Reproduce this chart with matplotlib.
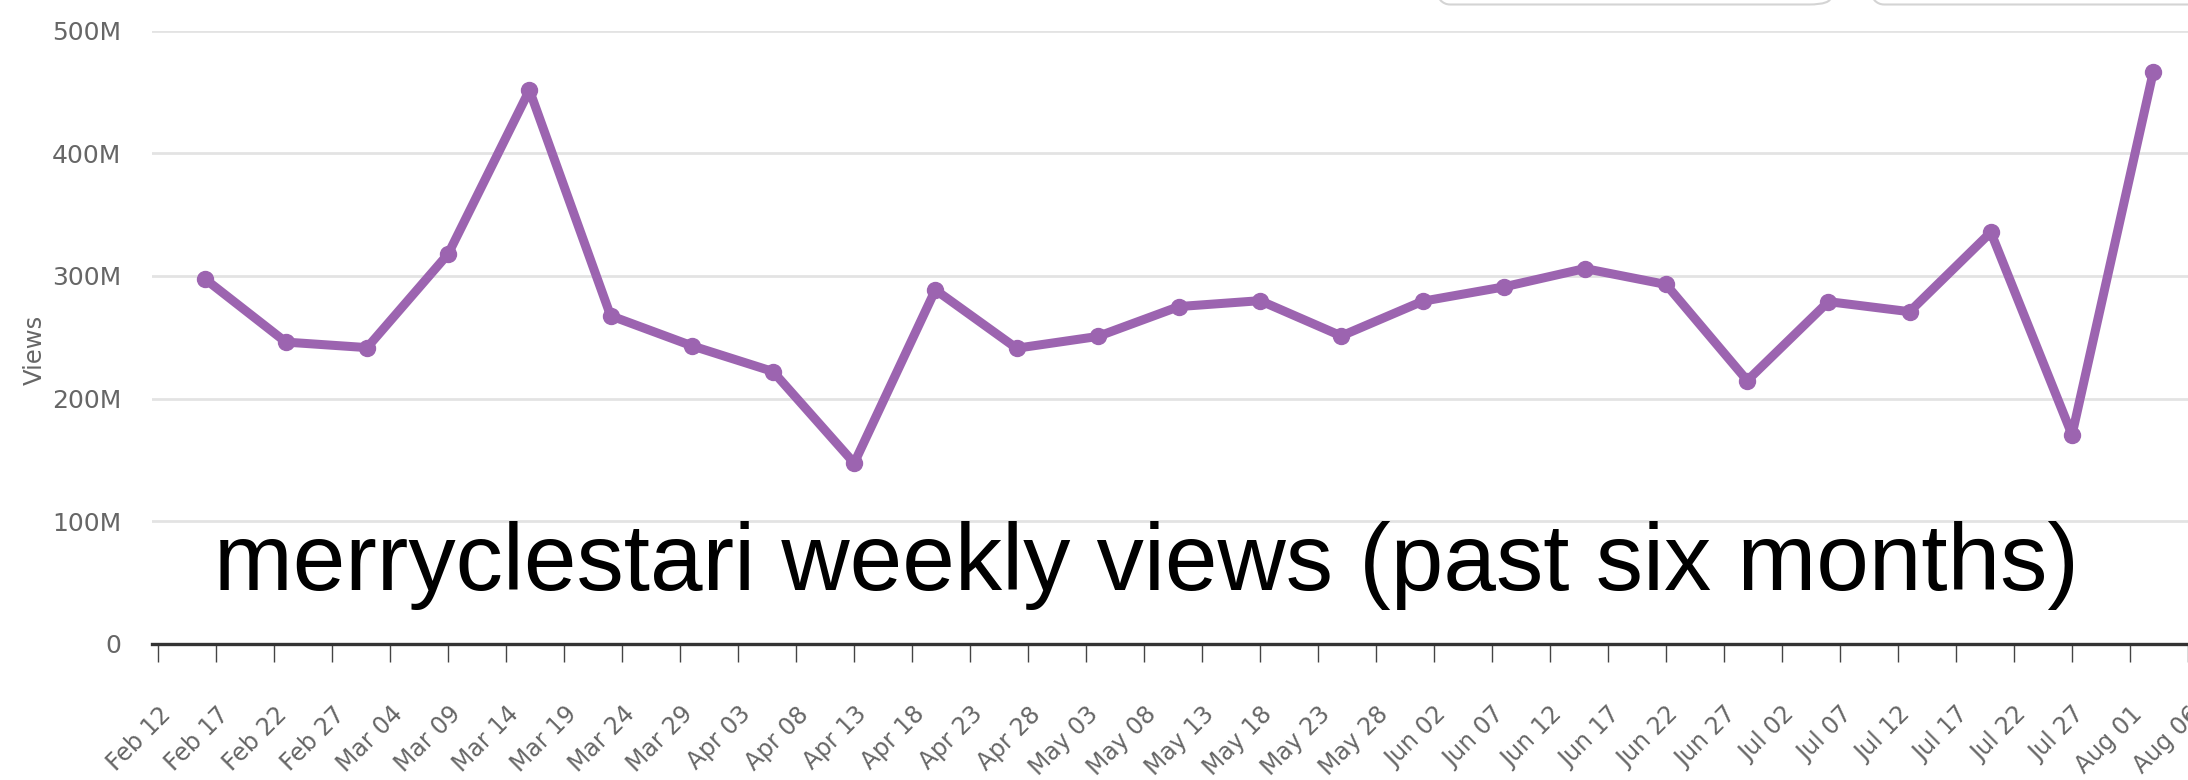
#!/usr/bin/env python3
"""Weekly views line chart for merryclestari (past six months)."""

import matplotlib
matplotlib.use("Agg")
import matplotlib.pyplot as plt
import matplotlib.dates as mdates
from matplotlib.patches import FancyBboxPatch
from matplotlib.ticker import FuncFormatter
import pandas as pd

# weekly data points (millions of views)
WEEK_START = "2023-02-16"
VIEWS_M = [297.7, 246.0, 241.5, 318.0, 451.5, 267.5, 243.0, 222.0, 147.3,
           288.6, 241.0, 250.6, 275.0, 279.8, 251.0, 279.3, 291.0, 306.0,
           293.0, 214.6, 279.0, 270.8, 335.6, 170.4, 466.1]
TICK_START = "2023-02-12"
TICK_END = "2023-08-06"
Y_TICKS = [0, 100, 200, 300, 400, 500]

LINE_COLOR = "#9c64b0"
TICK_COLOR = "#666666"
W, H, DPI = 2188, 780, 100

dates = pd.date_range(WEEK_START, periods=len(VIEWS_M), freq="7D")
ticks = pd.date_range(TICK_START, TICK_END, freq="5D")

fig = plt.figure(figsize=(W / DPI, H / DPI), dpi=DPI)
ax = fig.add_axes([152 / W, 1 - 643.7 / H, 1 - 152 / W, (643.7 - 30.7) / H])

px_day = 11.6
t0 = mdates.date2num(pd.Timestamp(TICK_START))
ax.set_xlim(t0 - 6.3 / px_day, t0 + (W - 158.3) / px_day)
ax.set_ylim(0, 500)

ax.plot(dates, VIEWS_M, color=LINE_COLOR, lw=6.5, marker="o", ms=11.5,
        solid_joinstyle="round", clip_on=False, zorder=3)

ax.set_yticks(Y_TICKS)
ax.yaxis.set_major_formatter(FuncFormatter(lambda v, _: "0" if v == 0 else f"{int(v)}M"))
ax.grid(axis="y", color="#e3e3e3", lw=2)
ax.set_axisbelow(True)
ax.tick_params(axis="y", length=0, pad=22, labelsize=18, labelcolor=TICK_COLOR)

ax.set_xticks(ticks)
ax.xaxis.set_major_formatter(mdates.DateFormatter("%b %d"))
ax.tick_params(axis="x", direction="out", length=13, width=1, color="#444444",
               pad=29, labelsize=17, labelcolor=TICK_COLOR)
for lbl in ax.get_xticklabels():
    lbl.set_rotation(45)
    lbl.set_ha("right")
    lbl.set_rotation_mode("anchor")

for side in ("top", "right", "left"):
    ax.spines[side].set_visible(False)
ax.spines["bottom"].set_color("#333333")
ax.spines["bottom"].set_linewidth(2.4)

ax.set_ylabel("Views", fontsize=17.5, color=TICK_COLOR, labelpad=0)
ax.yaxis.set_label_coords(-105 / (W - 152), (643.7 - 350) / (643.7 - 30.7))

# partial UI buttons cropped at the top edge
for x0, x1 in [(1428, 1831), (1862, 2240)]:
    fig.patches.append(FancyBboxPatch(
        (x0 / W, 1 - 4.5 / H), (x1 - x0) / W, 0.1,
        boxstyle="round,pad=0,rounding_size=0.01", transform=fig.transFigure,
        fill=False, edgecolor="#d4d4d4", lw=1.5))

fig.text(214 / W, 1 - 590 / H, "merryclestari weekly views (past six months)",
         fontsize=68, family="Liberation Sans", color="black",
         ha="left", va="baseline")

fig.savefig("out.png", dpi=DPI)
